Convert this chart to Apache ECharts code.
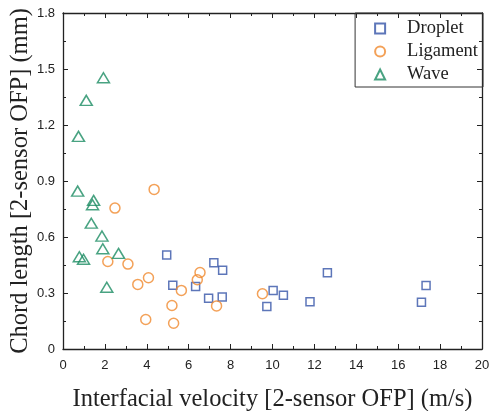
<!DOCTYPE html>
<html lang="en">
<head>
    <meta charset="UTF-8">
    <title>Chord length vs interfacial velocity</title>
    <script src="https://cdn.jsdelivr.net/npm/echarts@6/dist/echarts.min.js"></script>
</head>
<body style="margin:0">
    <div id="main" style="width: 490px;height:411px;"></div>
    <script>
        // data: [velocity (m/s), chord length (mm)]
        let droplet = [
            [4.95, 0.503], [7.20, 0.462], [7.62, 0.422], [5.24, 0.342], [6.33, 0.335],
            [6.95, 0.272], [7.60, 0.278], [10.03, 0.314], [9.73, 0.228], [10.52, 0.288],
            [11.79, 0.253], [12.62, 0.408], [17.33, 0.340], [17.11, 0.251]
        ];
        let ligament = [
            [4.35, 0.855], [2.48, 0.755], [2.14, 0.469], [3.10, 0.455], [4.08, 0.382],
            [3.57, 0.346], [6.54, 0.410], [6.41, 0.371], [5.65, 0.314], [5.20, 0.233],
            [7.33, 0.231], [9.52, 0.296], [3.95, 0.158], [5.28, 0.138]
        ];
        let wave = [
            [1.93, 1.453], [1.11, 1.332], [0.74, 1.139], [0.70, 0.846], [1.46, 0.796],
            [1.41, 0.773], [1.35, 0.674], [1.86, 0.605], [1.90, 0.537], [2.65, 0.512],
            [0.78, 0.494], [0.98, 0.481], [2.09, 0.331]
        ];

        let serif = 'Liberation Serif';
        let sans = 'Liberation Sans';

        // 轴的公共样式
        function axisBase(show) {
            return {
                type: 'value',
                axisLine: { show: true, onZero: false, lineStyle: { color: '#222', width: 1.3 } },
                axisTick: { show: true, inside: true, length: 5, lineStyle: { color: '#222' } },
                minorTick: { show: true, splitNumber: 2, length: 3, lineStyle: { color: '#222' } },
                splitLine: { show: false },
                axisLabel: { show: show, color: '#222', fontFamily: sans, fontSize: 13 }
            };
        }

        let xBottom = Object.assign(axisBase(true), {
            min: 0, max: 20, interval: 2, position: 'bottom',
            name: 'Interfacial velocity [2-sensor OFP] (m/s)',
            nameLocation: 'middle', nameGap: 38,
            nameTextStyle: { fontFamily: serif, fontSize: 24.5, color: '#222' }
        });
        xBottom.axisLabel.margin = 10;
        let xTop = Object.assign(axisBase(false), { min: 0, max: 20, interval: 2, position: 'top' });

        let yLeft = Object.assign(axisBase(true), {
            min: 0, max: 1.8, interval: 0.3, position: 'left',
            name: 'Chord length [2-sensor OFP] (mm)',
            nameLocation: 'middle', nameGap: 30, nameMoveOverlap: false,
            nameTextStyle: { fontFamily: serif, fontSize: 24.5, color: '#222' }
        });
        let yRight = Object.assign(axisBase(false), { min: 0, max: 1.8, interval: 0.3, position: 'right' });

        function makeSeries(name, data, symbol, size, color) {
            return {
                name: name,
                type: 'scatter',
                data: data,
                symbol: symbol,
                symbolSize: size,
                itemStyle: { color: 'rgba(255,255,255,0)', borderColor: color, borderWidth: 1.5 }
            };
        }

        var myChart = echarts.init(document.getElementById('main'));
        var option = {
            animation: false,
            grid: { left: 63, right: 8, top: 13, bottom: 62, outerBoundsMode: 'none' },
            legend: {
                orient: 'vertical',
                right: 7, top: 13,
                borderColor: '#333', borderWidth: 1,
                borderRadius: 0,
                padding: [6, 5, 3, 19],
                itemGap: 4,
                itemWidth: 10, itemHeight: 10,
                textStyle: { fontFamily: serif, fontSize: 18.5, color: '#222', lineHeight: 16, padding: [0, 0, 0, 17] },
                data: ['Droplet', 'Ligament', 'Wave']
            },
            xAxis: [xBottom, xTop],
            yAxis: [yLeft, yRight],
            series: [
                makeSeries('Droplet', droplet, 'rect', 8, '#3554a8'),
                makeSeries('Ligament', ligament, 'circle', 10, '#f08a2e'),
                makeSeries('Wave', wave, 'triangle', [12, 10], '#1b8c63')
            ]
        };
        myChart.setOption(option);
    </script>
</body>
</html>
